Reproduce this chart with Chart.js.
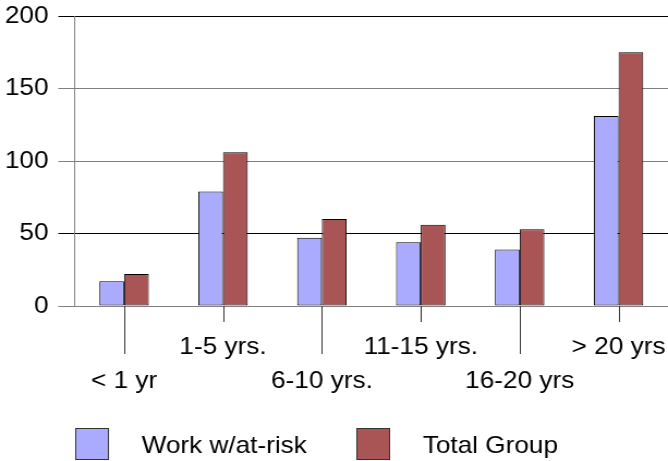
<!DOCTYPE html>
<html>
<head>
<meta charset="utf-8">
<script src="https://cdn.jsdelivr.net/npm/chart.js@4"></script>
<style>
  html, body { margin: 0; padding: 0; background: #fff; }
  #c { display: block; width: 668px; height: 461px; }
</style>
</head>
<body>
<canvas id="c" width="613" height="461" style="width:668px;height:461px"></canvas>
<script>
// ---- data ----
const categories = ['< 1 yr', '1-5 yrs.', '6-10 yrs.', '11-15 yrs.', '16-20 yrs', '> 20 yrs'];
const seriesNames = ['Work w/at-risk', 'Total Group'];
const workAtRisk = [17, 79, 47, 44, 39, 131];
const totalGroup = [22, 106, 60, 56, 53, 175];
const yTicks = [0, 50, 100, 150, 200];

const FONT = '"Liberation Sans", Arial, Helvetica, sans-serif';
const colors = ['#aaaaff', '#aa5555'];

// staggered labels: even index on lower row, odd on upper row
const staggered = categories.map((c, i) => i % 2 === 0 ? ['', c] : [c, '']);

const leaderPlugin = {
  id: 'leaders',
  afterDatasetsDraw(chart) {
    const ctx = chart.ctx, xs = chart.scales.x, bottom = chart.chartArea.bottom;
    ctx.save();
    ctx.strokeStyle = '#333';
    ctx.lineWidth = 1;
    categories.forEach((c, i) => {
      const x = Math.round(xs.getPixelForValue(i)) + 0.5;
      ctx.beginPath();
      ctx.moveTo(x, bottom);
      ctx.lineTo(x, bottom + (i % 2 === 0 ? 48 : 16));
      ctx.stroke();
    });
    ctx.restore();
  }
};

const legendPlugin = {
  id: 'customLegend',
  afterDraw(chart) {
    const ctx = chart.ctx;
    const items = [
      { bx: 69.5, tx: 130 },
      { bx: 327.5, tx: 388 }
    ];
    ctx.save();
    chart.data.datasets.forEach((ds, i) => {
      const it = items[i];
      ctx.fillStyle = ds.backgroundColor;
      ctx.fillRect(it.bx, 428.5, 30, 31);
      ctx.strokeStyle = '#333';
      ctx.lineWidth = 1;
      ctx.strokeRect(it.bx, 428.5, 30, 31);
      ctx.fillStyle = '#000';
      ctx.font = '24px ' + FONT;
      ctx.textBaseline = 'alphabetic';
      ctx.textAlign = 'left';
      ctx.fillText(ds.label, it.tx, 453);
    });
    ctx.restore();
  }
};

new Chart(document.getElementById('c'), {
  type: 'bar',
  data: {
    labels: staggered,
    datasets: [
      { label: seriesNames[0], data: workAtRisk, backgroundColor: colors[0], borderColor: '#000', borderWidth: 1, borderSkipped: false },
      { label: seriesNames[1], data: totalGroup, backgroundColor: colors[1], borderColor: '#000', borderWidth: 1, borderSkipped: false }
    ]
  },
  options: {
    responsive: false,
    devicePixelRatio: 1,
    animation: false,
    layout: { padding: { top: 16, right: 0, bottom: 0, left: 0 } },
    datasets: { bar: { categoryPercentage: 0.5, barPercentage: 1.0 } },
    plugins: { legend: { display: false }, tooltip: { enabled: false } },
    scales: {
      x: {
        offset: true,
        grid: { display: false, drawTicks: false },
        border: { display: false },
        ticks: {
          color: '#000',
          font: { family: FONT, size: 24, lineHeight: '34px' },
          padding: 24,
          maxRotation: 0,
          autoSkip: false
        },
        afterFit(s) { s.height = 155; s.paddingLeft = 0; s.paddingRight = 0; }
      },
      y: {
        min: 0,
        max: 200,
        afterBuildTicks(s) { s.ticks = yTicks.map(v => ({ value: v })); },
        grid: {
          color: (c) => (c.tick && (c.tick.value === 200 || c.tick.value === 50)) ? '#000' : '#808080',
          lineWidth: 1,
          tickLength: 15,
          drawTicks: true
        },
        border: { display: true, color: '#808080', width: 1 },
        ticks: {
          color: '#000',
          font: { family: FONT, size: 24 },
          padding: 9
        },
        afterFit(s) { s.width = 68.5; s.paddingTop = 0; s.paddingBottom = 0; }
      }
    }
  },
  plugins: [leaderPlugin, legendPlugin]
});
</script>
</body>
</html>
